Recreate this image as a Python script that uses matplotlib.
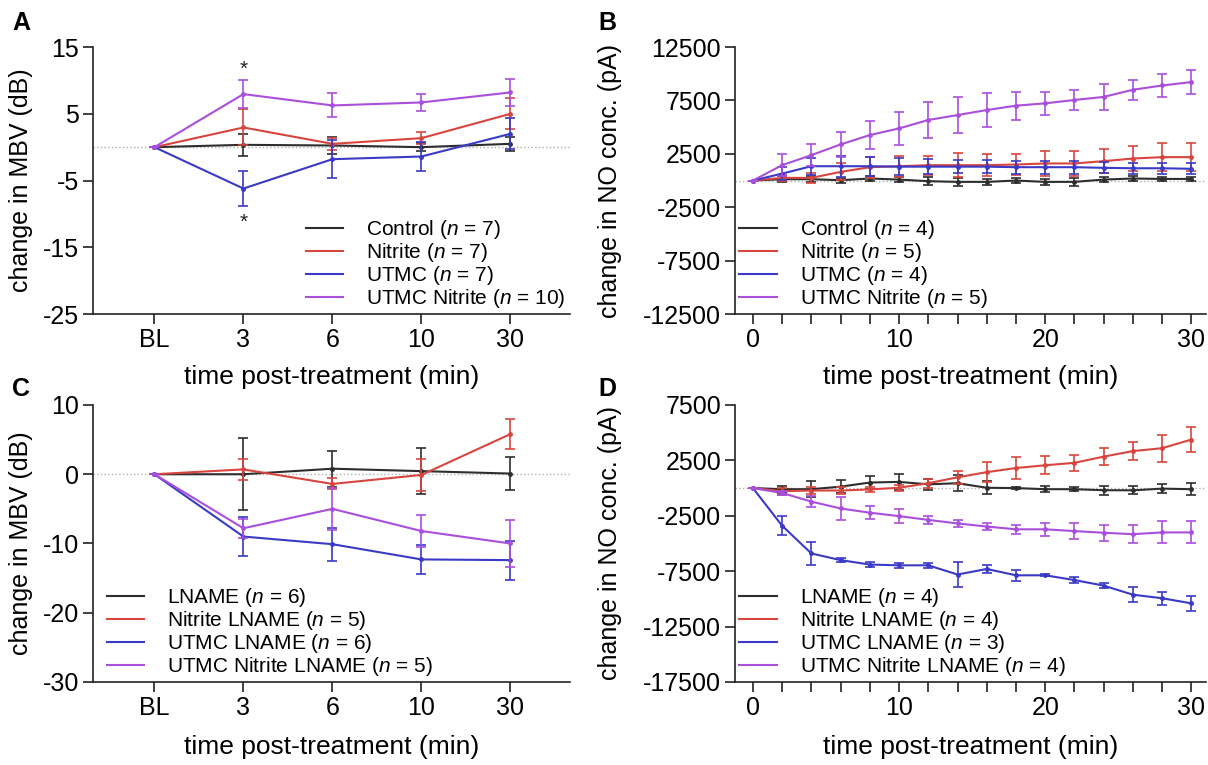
import matplotlib
matplotlib.use('Agg')
import matplotlib.pyplot as plt
from matplotlib.lines import Line2D

plt.rcParams['font.family'] = ['Liberation Sans', 'DejaVu Sans']
plt.rcParams['mathtext.fontset'] = 'custom'
plt.rcParams['mathtext.rm'] = 'Liberation Sans'
plt.rcParams['mathtext.it'] = 'Liberation Sans:italic'
plt.rcParams['axes.unicode_minus'] = False

COLORS = ['#2e2e2e', '#d8453e', '#3a3ac6', '#a94fdc']

# ---- panel A: MBV, untreated groups
mbv_ticks = ['BL', '3', '6', '10', '30']
a_labels = ['Control ($n$ = 7)', 'Nitrite ($n$ = 7)', 'UTMC ($n$ = 7)',
            'UTMC Nitrite ($n$ = 10)']
a_control = [0, 0.35, 0.25, 0.0, 0.5]
a_control_err = [0, 1.6, 1.2, 0.6, 1.0]
a_nitrite = [0, 2.95, 0.5, 1.35, 5.0]
a_nitrite_err = [0, 2.7, 0.9, 0.9, 2.3]
a_utmc = [0, -6.2, -1.8, -1.4, 2.0]
a_utmc_err = [0, 2.6, 2.8, 2.2, 2.3]
a_utmc_nitrite = [0, 7.95, 6.25, 6.7, 8.2]
a_utmc_nitrite_err = [0, 2.1, 1.8, 1.25, 2.0]
a_stars = [11.6, -11.2]

# ---- panel B: NO concentration, untreated groups
no_times = [0, 2, 4, 6, 8, 10, 12, 14, 16, 18, 20, 22, 24, 26, 28, 30]
b_labels = ['Control ($n$ = 4)', 'Nitrite ($n$ = 5)', 'UTMC ($n$ = 4)',
            'UTMC Nitrite ($n$ = 5)']
b_control = [0, 125, 125, 30, 190, 90, -60, -125, -125, 0, -125, -125, 90, 190, 150, 150]
b_control_err = [0, 300, 300, 250, 200, 250, 350, 400, 250, 200, 300, 350, 200, 200, 200, 200]
b_nitrite = [0, 250, 250, 810, 1250, 1340, 1440, 1440, 1440, 1500, 1600, 1600, 1815, 2060, 2190, 2190]
b_nitrite_err = [0, 300, 500, 800, 1000, 1000, 900, 1100, 1000, 1000, 1200, 1200, 1100, 1200, 1300, 1300]
b_utmc = [0, 650, 1340, 1340, 1340, 1300, 1300, 1300, 1300, 1250, 1250, 1250, 1190, 1150, 1150, 1100]
b_utmc_err = [0, 600, 800, 1000, 900, 800, 700, 600, 600, 600, 600, 600, 500, 500, 500, 500]
b_utmc_nitrite = [0, 1440, 2380, 3380, 4260, 4880, 5670, 6130, 6600, 7010, 7230, 7540, 7830, 8500, 8900, 9220]
b_utmc_nitrite_err = [0, 1000, 1050, 1150, 1350, 1550, 1700, 1720, 1560, 1300, 1060, 970, 1200, 950, 1100, 1100]

# ---- panel C: MBV, LNAME groups
c_labels = ['LNAME ($n$ = 6)', 'Nitrite LNAME ($n$ = 5)', 'UTMC LNAME ($n$ = 6)',
            'UTMC Nitrite LNAME ($n$ = 5)']
c_lname = [0, 0.0, 0.8, 0.45, 0.1]
c_lname_err = [0, 5.2, 2.6, 3.3, 2.4]
c_nitrite = [0, 0.7, -1.4, -0.1, 5.8]
c_nitrite_err = [0, 1.5, 0.8, 2.3, 2.2]
c_utmc = [0, -9.0, -10.1, -12.3, -12.4]
c_utmc_err = [0, 2.8, 2.4, 2.1, 2.8]
c_utmc_nitrite = [0, -7.8, -5.0, -8.2, -10.0]
c_utmc_nitrite_err = [0, 1.4, 3.0, 2.3, 3.4]

# ---- panel D: NO concentration, LNAME groups
d_labels = ['LNAME ($n$ = 4)', 'Nitrite LNAME ($n$ = 4)', 'UTMC LNAME ($n$ = 3)',
            'UTMC Nitrite LNAME ($n$ = 4)']
d_lname = [0, -100, -100, 130, 500, 560, 340, 440, 30, 0, -100, -100, -190, -200, -50, -100]
d_lname_err = [0, 300, 700, 600, 600, 700, 500, 700, 600, 100, 250, 200, 400, 350, 400, 550]
d_nitrite = [0, -280, -220, -220, -120, 30, 440, 970, 1440, 1810, 2060, 2280, 2840, 3340, 3600, 4380]
d_nitrite_err = [0, 300, 300, 300, 250, 250, 400, 600, 900, 1000, 800, 700, 800, 800, 1200, 1100]
d_utmc = [0, -3400, -5900, -6500, -6900, -6970, -6970, -7800, -7300, -7870, -7870, -8300, -8800, -9620, -9940, -10400]
d_utmc_err = [0, 850, 1000, 200, 200, 250, 250, 1100, 350, 500, 100, 250, 250, 700, 600, 700]
d_utmc_nitrite = [0, -440, -1220, -1840, -2220, -2530, -2870, -3190, -3470, -3720, -3720, -3880, -4030, -4160, -4000, -4000]
d_utmc_nitrite_err = [0, 150, 500, 1000, 600, 600, 350, 350, 300, 400, 600, 700, 700, 800, 1000, 1000]


def draw_series(ax, x, series, errors):
    for i, (m, e) in enumerate(zip(series, errors)):
        ax.plot(x, m, color=COLORS[i], lw=1.5, marker='o', ms=2.5, zorder=3 + i)
        ax.errorbar(x, m, yerr=e, fmt='none', ecolor=COLORS[i], elinewidth=1.2,
                    capsize=3.5, capthick=1.2, zorder=3 + i)


def style_axes(ax):
    for side in ['top', 'right']:
        ax.spines[side].set_visible(False)
    for side in ['left', 'bottom']:
        ax.spines[side].set_linewidth(1.2)
        ax.spines[side].set_color('#222222')
    ax.tick_params(which='both', direction='out', length=7, width=1.2,
                   labelsize=18, pad=3, color='#222222')
    ax.axhline(0, ls=':', color='#b0b0b0', lw=1, zorder=1)


def add_legend(ax, labels, loc, anchor):
    handles = [Line2D([], [], color=c, lw=1.5) for c in COLORS]
    ax.legend(handles, labels, loc=loc, bbox_to_anchor=anchor, frameon=False,
              fontsize=15, handlelength=1.8, handletextpad=1.1,
              labelspacing=0.0, borderaxespad=0, borderpad=0.2)


fig = plt.figure(figsize=(12.08, 7.65), dpi=100)
ax_a = fig.add_axes([0.0770, 0.5895, 0.3949, 0.3490])
ax_b = fig.add_axes([0.6084, 0.5895, 0.3899, 0.3490])
ax_c = fig.add_axes([0.0770, 0.1085, 0.3949, 0.3621])
ax_d = fig.add_axes([0.6084, 0.1085, 0.3899, 0.3621])

cat_x = list(range(len(mbv_ticks)))

# A
draw_series(ax_a, cat_x, [a_control, a_nitrite, a_utmc, a_utmc_nitrite],
            [a_control_err, a_nitrite_err, a_utmc_err, a_utmc_nitrite_err])
style_axes(ax_a)
ax_a.set_xlim(-0.69, 4.67)
ax_a.set_ylim(-25, 15)
ax_a.set_yticks([15, 5, -5, -15, -25])
ax_a.set_xticks(cat_x, mbv_ticks)
for s in a_stars:
    ax_a.text(1, s, '*', ha='center', va='center', fontsize=15, color='#222222')
add_legend(ax_a, a_labels, 'lower right', (1.0, 0.0))

# B
draw_series(ax_b, no_times, [b_control, b_nitrite, b_utmc, b_utmc_nitrite],
            [b_control_err, b_nitrite_err, b_utmc_err, b_utmc_nitrite_err])
style_axes(ax_b)
ax_b.set_xlim(-1.23, 31.0)
ax_b.set_ylim(-12500, 12500)
ax_b.set_yticks([12500, 7500, 2500, -2500, -7500, -12500])
ax_b.set_xticks([0, 10, 20, 30])
ax_b.set_xticks(no_times, minor=True)
add_legend(ax_b, b_labels, 'lower left', (0.0, 0.0))

# C
draw_series(ax_c, cat_x, [c_lname, c_nitrite, c_utmc, c_utmc_nitrite],
            [c_lname_err, c_nitrite_err, c_utmc_err, c_utmc_nitrite_err])
style_axes(ax_c)
ax_c.set_xlim(-0.69, 4.67)
ax_c.set_ylim(-30, 10)
ax_c.set_yticks([10, 0, -10, -20, -30])
ax_c.set_xticks(cat_x, mbv_ticks)
add_legend(ax_c, c_labels, 'lower left', (0.02, 0.0))

# D
draw_series(ax_d, no_times, [d_lname, d_nitrite, d_utmc, d_utmc_nitrite],
            [d_lname_err, d_nitrite_err, d_utmc_err, d_utmc_nitrite_err])
style_axes(ax_d)
ax_d.set_xlim(-1.23, 31.0)
ax_d.set_ylim(-17500, 7500)
ax_d.set_yticks([7500, 2500, -2500, -7500, -12500, -17500])
ax_d.set_xticks([0, 10, 20, 30])
ax_d.set_xticks(no_times, minor=True)
add_legend(ax_d, d_labels, 'lower left', (0.0, 0.0))

# labels
for ax, ylab, ypos in [(ax_a, 'change in MBV (dB)', -0.126),
                       (ax_c, 'change in MBV (dB)', -0.126),
                       (ax_b, 'change in NO conc. (pA)', -0.240),
                       (ax_d, 'change in NO conc. (pA)', -0.240)]:
    ax.set_ylabel(ylab, fontsize=18)
    ax.yaxis.set_label_coords(ypos, 0.5)
    ax.set_xlabel('time post-treatment (min)', fontsize=19)
    ax.xaxis.set_label_coords(0.5, -0.19)

for letter, x, y in [('A', 0.018, 0.970), ('B', 0.503, 0.970),
                     ('C', 0.017, 0.492), ('D', 0.503, 0.492)]:
    fig.text(x, y, letter, fontsize=18, fontweight='bold', ha='center', va='center')

fig.savefig('out.png', dpi=100)
